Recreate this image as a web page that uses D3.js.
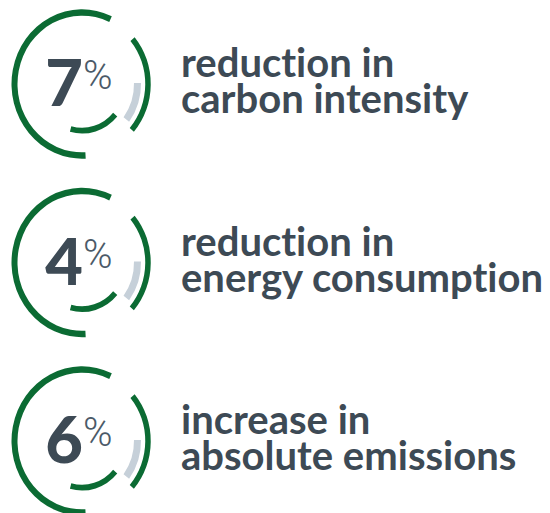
<!DOCTYPE html>
<html>
<head>
<meta charset="utf-8">
<script src="https://cdn.jsdelivr.net/npm/d3@7"></script>
<style>
  body { margin: 0; background: #fff; }
  text { font-variant-ligatures: none; }
</style>
</head>
<body>
<div id="chart"></div>
<script>
// values
var categories = ["carbon intensity", "energy consumption", "absolute emissions"];
var values = [7, 4, 6];
var firstLines = ["reduction in", "reduction in", "increase in"];
var secondLines = ["carbon intensity", "energy consumption", "absolute emissions"];

var width = 550, height = 513;
var green = "#0b6b33", grey = "#c6d0d9", ink = "#3d4a55";

var svg = d3.select("#chart")
  .append("svg")
    .attr("width", width)
    .attr("height", height);

// one row per category
var y = d3.scalePoint()
  .domain(categories)
  .range([85, 442]);

var deg = Math.PI / 180;
// ring pieces: start/end angle (degrees, clockwise from top), radius, thickness, colour
var pieces = [
  {a0: 177, a1: 385, r: 67.5, w: 6, c: green},
  {a0: 50, a1: 131, r: 66, w: 5.5, c: green},
  {a0: 89, a1: 127, r: 55.5, w: 7, c: grey},
  {a0: 131, a1: 195, r: 44, w: 5.5, c: green}
];

var arc = d3.arc()
  .innerRadius(function(d) { return d.r - d.w / 2; })
  .outerRadius(function(d) { return d.r + d.w / 2; })
  .startAngle(function(d) { return d.a0 * deg; })
  .endAngle(function(d) { return d.a1 * deg; });

var rows = svg.selectAll("g.row")
  .data(categories)
  .enter()
  .append("g")
    .attr("class", "row")
    .attr("transform", function(d) { return "translate(0," + y(d) + ")"; });

// rings (slightly taller than wide, like the original)
rows.append("g")
    .attr("transform", "translate(82,-1) scale(1,1.06)")
  .selectAll("path")
  .data(pieces)
  .enter()
  .append("path")
    .attr("d", arc)
    .attr("fill", function(d) { return d.c; });

// big number
rows.append("text")
    .attr("x", 83)
    .attr("y", 21)
    .attr("text-anchor", "end")
    .style("font-family", "Lato")
    .style("font-weight", 900)
    .style("font-size", "65px")
    .attr("fill", ink)
    .text(function(d, i) { return values[i]; });

rows.append("text")
    .attr("x", 83)
    .attr("y", 4)
    .style("font-family", "Roboto")
    .style("font-weight", 300)
    .style("font-size", "40px")
    .attr("fill", "#4b5a68")
    .text("%");

// labels
var label = rows.append("text")
    .attr("x", 181)
    .style("font-family", "Lato")
    .style("font-weight", 700)
    .style("font-size", "40px")
    .attr("fill", ink);

label.append("tspan")
    .attr("x", 181)
    .attr("y", -8)
    .text(function(d, i) { return firstLines[i]; });

label.append("tspan")
    .attr("x", 181)
    .attr("y", 28)
    .text(function(d, i) { return secondLines[i]; });
</script>
</body>
</html>
